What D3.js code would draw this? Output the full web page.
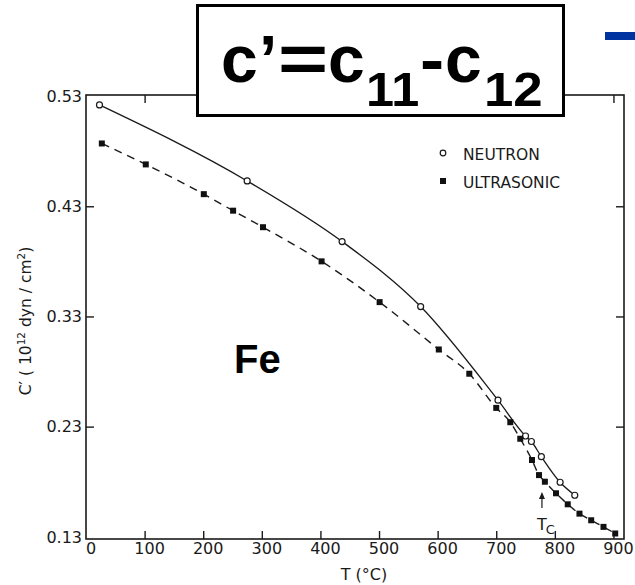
<!DOCTYPE html>
<html>
<head>
<meta charset="utf-8">
<script src="https://cdn.jsdelivr.net/npm/d3@7"></script>
<style>
  html, body { margin: 0; padding: 0; background: #fff; }
  svg { display: block; }
</style>
</head>
<body>
<svg id="chart" width="635" height="585"></svg>
<script>
// Shear constant C' of iron versus temperature
const neutronT = [23, 275, 437, 571, 703, 750, 760, 777, 809, 834];
const neutronC = [0.522, 0.453, 0.398, 0.339, 0.254, 0.2215, 0.2165, 0.2027, 0.1795, 0.1677];

const ultrasonicT = [27, 102, 201, 251, 302, 402, 501, 602, 654, 700, 724, 741, 761, 773, 783, 802, 822, 842, 862, 883, 903];
const ultrasonicC = [0.487, 0.468, 0.441, 0.426, 0.411, 0.380, 0.343, 0.300, 0.278, 0.247, 0.234, 0.219, 0.1997, 0.186, 0.180, 0.1695, 0.1595, 0.151, 0.145, 0.139, 0.133];

const xTickValues = [0, 100, 200, 300, 400, 500, 600, 700, 800, 900];
const yTickValues = [0.13, 0.23, 0.33, 0.43, 0.53];
const curieT = 778;

const svg = d3.select("#chart");
const ink = "#1a1a1a";
const labelFont = "DejaVu Sans, sans-serif";
const boldFont = "Liberation Sans, Arial, sans-serif";

const x = d3.scaleLinear().domain([0, 918]).range([86, 624]);
const y = d3.scaleLinear().domain([0.128, 0.531]).range([539, 95]);

const neutron = neutronT.map((t, i) => ({ t, c: neutronC[i] }));
const ultrasonic = ultrasonicT.map((t, i) => ({ t, c: ultrasonicC[i] }));

// Plot frame
const [x0, x1] = x.range();
const [yb, yt] = y.range();
svg.append("rect")
  .attr("x", x0).attr("y", yt)
  .attr("width", x1 - x0).attr("height", yb - yt)
  .attr("fill", "none").attr("stroke", ink).attr("stroke-width", 1.6);

// Inward ticks on all four sides
const tickLen = 8;
const innerX = xTickValues.filter(v => v > 0);
const innerY = yTickValues.filter(v => v > 0.13 && v < 0.53);
const bottomAxis = d3.axisTop(x).tickValues(innerX).tickSize(tickLen).tickFormat("");
const topAxis = d3.axisBottom(x).tickValues(innerX).tickSize(tickLen).tickFormat("");
const leftAxis = d3.axisRight(y).tickValues(innerY).tickSize(tickLen).tickFormat("");
const rightAxis = d3.axisLeft(y).tickValues(innerY).tickSize(tickLen).tickFormat("");

function styleAxis(g) {
  g.select(".domain").remove();
  g.selectAll("line").attr("stroke", ink).attr("stroke-width", 1.4);
}
svg.append("g").attr("transform", `translate(0,${yb})`).call(bottomAxis).call(styleAxis);
svg.append("g").attr("transform", `translate(0,${yt})`).call(topAxis).call(styleAxis);
svg.append("g").attr("transform", `translate(${x0},0)`).call(leftAxis).call(styleAxis);
svg.append("g").attr("transform", `translate(${x1},0)`).call(rightAxis).call(styleAxis);

// Tick labels
svg.append("g").selectAll("text")
  .data(xTickValues).join("text")
  .attr("x", d => x(d) + 5)
  .attr("y", 554)
  .attr("text-anchor", "middle")
  .attr("font-family", labelFont).attr("font-size", 16).attr("fill", ink)
  .text(d => d);

svg.append("g").selectAll("text")
  .data(yTickValues).join("text")
  .attr("x", 82)
  .attr("y", d => y(d))
  .attr("dy", "0.36em")
  .attr("text-anchor", "end")
  .attr("font-family", labelFont).attr("font-size", 16).attr("fill", ink)
  .text(d => d.toFixed(2));

// Axis titles
svg.append("text")
  .attr("x", 364).attr("y", 580)
  .attr("text-anchor", "middle")
  .attr("font-family", labelFont).attr("font-size", 16).attr("fill", ink)
  .text("T (°C)");

const yTitle = svg.append("text")
  .attr("transform", "translate(31,321) rotate(-90)")
  .attr("text-anchor", "middle")
  .attr("font-family", labelFont).attr("font-size", 15.5).attr("fill", ink);
yTitle.append("tspan").text("C′ ( 10");
yTitle.append("tspan").attr("font-size", 10.5).attr("dy", -6).text("12");
yTitle.append("tspan").attr("dy", 6).text(" dyn / cm");
yTitle.append("tspan").attr("font-size", 10.5).attr("dy", -6).text("2");
yTitle.append("tspan").attr("dy", 6).text(")");

// Curves
const lineGen = d3.line()
  .x(d => x(d.t)).y(d => y(d.c))
  .curve(d3.curveMonotoneX);

svg.append("path")
  .datum(neutron)
  .attr("d", lineGen)
  .attr("fill", "none").attr("stroke", ink).attr("stroke-width", 1.3);

svg.append("path")
  .datum(ultrasonic)
  .attr("d", lineGen)
  .attr("fill", "none").attr("stroke", ink).attr("stroke-width", 1.4)
  .attr("stroke-dasharray", "8,6");

// Markers
svg.append("g").selectAll("circle")
  .data(neutron).join("circle")
  .attr("cx", d => x(d.t)).attr("cy", d => y(d.c))
  .attr("r", 3)
  .attr("fill", "#fff").attr("stroke", ink).attr("stroke-width", 1.2);

const sq = 6;
svg.append("g").selectAll("rect")
  .data(ultrasonic).join("rect")
  .attr("x", d => x(d.t) - sq / 2).attr("y", d => y(d.c) - sq / 2)
  .attr("width", sq).attr("height", sq)
  .attr("fill", "#111");

// Curie temperature arrow
const arrowX = x(curieT);
svg.append("line")
  .attr("x1", arrowX).attr("x2", arrowX)
  .attr("y1", 508).attr("y2", 496)
  .attr("stroke", ink).attr("stroke-width", 1.2);
svg.append("path")
  .attr("d", `M${arrowX},492 L${arrowX - 3},499 L${arrowX + 3},499 Z`)
  .attr("fill", ink);
const tc = svg.append("text")
  .attr("x", arrowX - 5).attr("y", 530)
  .attr("font-family", labelFont).attr("font-size", 16).attr("fill", ink);
tc.append("tspan").text("T");
tc.append("tspan").attr("font-size", 13).attr("dy", 4).attr("dx", -1).text("C");

// Legend
svg.append("circle")
  .attr("cx", 443).attr("cy", 153).attr("r", 2.8)
  .attr("fill", "#fff").attr("stroke", ink).attr("stroke-width", 1.2);
svg.append("rect")
  .attr("x", 440).attr("y", 178).attr("width", 6).attr("height", 6)
  .attr("fill", "#111");
svg.append("text")
  .attr("x", 463).attr("y", 159.5)
  .attr("font-family", labelFont).attr("font-size", 15.5).attr("fill", ink)
  .text("NEUTRON");
svg.append("text")
  .attr("x", 463).attr("y", 187.5)
  .attr("font-family", labelFont).attr("font-size", 15.5).attr("fill", ink)
  .text("ULTRASONIC");

// Element label
svg.append("text")
  .attr("x", 234).attr("y", 373)
  .attr("font-family", boldFont)
  .attr("font-weight", "bold").attr("font-size", 40).attr("fill", "#000")
  .text("Fe");

// Definition box
svg.append("rect")
  .attr("x", 197.5).attr("y", 5.5).attr("width", 366).attr("height", 110)
  .attr("fill", "#fff").attr("stroke", "#000").attr("stroke-width", 3);

// c' = c11 - c12, set piece by piece
const defPieces = [
  { text: "c", x: 221, size: 66, dy: 0, sx: 1 },
  { text: "’", x: 259, size: 66, dy: 0, sx: 1 },
  { text: "=", x: 278, size: 66, dy: 0, sx: 1.3 },
  { text: "c", x: 328, size: 66, dy: 0, sx: 1 },
  { text: "11", x: 366, size: 48, dy: 24, sx: 1.05 },
  { text: "-", x: 420, size: 66, dy: 0, sx: 1.1 },
  { text: "c", x: 445, size: 66, dy: 0, sx: 1 },
  { text: "12", x: 484, size: 48, dy: 24, sx: 1.1 }
];
svg.append("g").selectAll("text")
  .data(defPieces).join("text")
  .attr("transform", d => `translate(${d.x},${82 + d.dy}) scale(${d.sx},1)`)
  .attr("font-family", boldFont)
  .attr("font-weight", "bold")
  .attr("font-size", d => d.size)
  .attr("fill", "#000")
  .text(d => d.text);

// Blue accent bar
svg.append("rect")
  .attr("x", 605).attr("y", 32).attr("width", 30).attr("height", 8)
  .attr("fill", "#0033a0");
</script>
</body>
</html>
